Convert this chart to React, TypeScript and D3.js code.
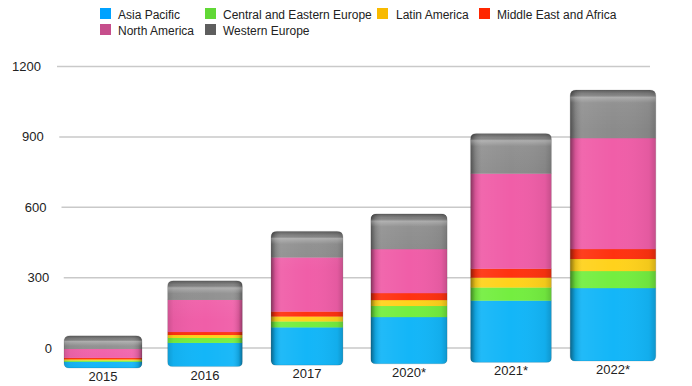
import React from 'react';
import * as d3 from 'd3';

const years = ['2015', '2016', '2017', '2020*', '2021*', '2022*'];
const seriesNames = [
  'Asia Pacific',
  'Central and Eastern Europe',
  'Latin America',
  'Middle East and Africa',
  'North America',
  'Western Europe',
];
const asiaPacific = [26, 97, 154, 190, 251, 296];
const centralEasternEurope = [5, 20, 24, 45, 53, 69];
const latinAmerica = [5, 12, 20, 24, 40, 49];
const middleEastAfrica = [6, 12, 20, 28, 36, 40];
const northAmerica = [36, 130, 219, 178, 385, 449];
const westernEurope = [53, 77, 105, 142, 162, 194];
const yTicks = [0, 300, 600, 900, 1200];

const seriesValues = [asiaPacific, centralEasternEurope, latinAmerica, middleEastAfrica, northAmerica, westernEurope];
const barColors = ['#13b6f8', '#74ee40', '#ffd21c', '#ff3210', '#f05ea8', '#8b8b8b'];
const legendColors = ['#00a2ff', '#61d836', '#f8ba00', '#ff2600', '#c64e8c', '#5e5e5e'];

const W = 692;
const H = 386;
const FONT = '"Liberation Sans", Arial, Helvetica, sans-serif';

function barPath(x: number, y: number, w: number, h: number, rt: number, rb: number) {
  return [
    `M${x},${y + rt}`,
    `Q${x},${y} ${x + rt},${y}`,
    `L${x + w - rt},${y}`,
    `Q${x + w},${y} ${x + w},${y + rt}`,
    `L${x + w},${y + h - rb}`,
    `Q${x + w},${y + h} ${x + w - rb},${y + h}`,
    `L${x + rb},${y + h}`,
    `Q${x},${y + h} ${x},${y + h - rb}`,
    'Z',
  ].join(' ');
}

export default function App() {
  const table = years.map((yr, i) => {
    const row: Record<string, any> = { year: yr };
    seriesNames.forEach((s, j) => (row[s] = seriesValues[j][i]));
    return row;
  });
  const stacked = d3.stack<any>().keys(seriesNames)(table);

  const x = d3.scaleBand<string>().domain(years).range([52, 664]).paddingInner(0.25).paddingOuter(0.125);
  const yGrid = d3.scaleLinear().domain([0, 1200]).range([348, 66.5]);
  const gridLeft = d3.scaleLinear().domain([0, 1200]).range([66, 57]);
  const labelRight = d3.scaleLinear().domain([0, 1200]).range([52, 41]);
  const barK = d3.scaleLinear().domain([0, 1200]).range([0, 1200 * 0.247]);
  const baseline = d3.scaleLinear().domain([0, years.length - 1]).range([368, 361]);
  const labelBase = d3.scaleLinear().domain([0, years.length - 1]).range([381, 374]);
  // perspective: bars near the edges look slightly wider
  const widthFactor = d3.scaleLinear().domain([103, 307, 612]).range([1.02, 0.94, 1.12]);

  const bw0 = x.bandwidth();
  const geom = years.map((yr) => {
    const cx = x(yr)! + bw0 / 2;
    const w = bw0 * widthFactor(cx);
    return { cx, w, x0: cx - w / 2 };
  });

  const legendItems = [
    { sx: 100, tx: 118, y: 14 },
    { sx: 205, tx: 223, y: 14 },
    { sx: 377, tx: 396, y: 14 },
    { sx: 479, tx: 497, y: 14 },
    { sx: 100, tx: 118, y: 30 },
    { sx: 205, tx: 223, y: 30 },
  ];

  return (
    <svg width={W} height={H} style={{ position: 'absolute', left: 0, top: 0, background: '#fff' }} fontFamily={FONT}>
      <defs>
        <linearGradient id="shadeL" x1="0" x2="1" y1="0" y2="0">
          <stop offset="0" stopColor="#000" stopOpacity="0.45" />
          <stop offset="0.06" stopColor="#000" stopOpacity="0.12" />
          <stop offset="0.14" stopColor="#fff" stopOpacity="0.06" />
          <stop offset="0.5" stopColor="#fff" stopOpacity="0" />
          <stop offset="0.92" stopColor="#000" stopOpacity="0.05" />
          <stop offset="1" stopColor="#000" stopOpacity="0.18" />
        </linearGradient>
        <linearGradient id="shadeR" x1="1" x2="0" y1="0" y2="0">
          <stop offset="0" stopColor="#000" stopOpacity="0.4" />
          <stop offset="0.05" stopColor="#000" stopOpacity="0.12" />
          <stop offset="0.14" stopColor="#fff" stopOpacity="0.04" />
          <stop offset="0.5" stopColor="#fff" stopOpacity="0" />
          <stop offset="0.92" stopColor="#000" stopOpacity="0.04" />
          <stop offset="1" stopColor="#000" stopOpacity="0.15" />
        </linearGradient>
        <linearGradient id="capShade" x1="0" x2="0" y1="0" y2="1">
          <stop offset="0" stopColor="#000" stopOpacity="0.35" />
          <stop offset="0.1" stopColor="#000" stopOpacity="0.08" />
          <stop offset="0.18" stopColor="#fff" stopOpacity="0.3" />
          <stop offset="0.32" stopColor="#fff" stopOpacity="0.06" />
          <stop offset="1" stopColor="#fff" stopOpacity="0" />
        </linearGradient>
        {years.map((yr, i) => {
          const total = stacked[stacked.length - 1][i][1];
          const g = geom[i];
          const by = baseline(i) - barK(total);
          return (
            <clipPath id={`clip${i}`} key={yr}>
              <path d={barPath(g.x0, by, g.w, barK(total), 6, 5)} />
            </clipPath>
          );
        })}
      </defs>

      {/* legend */}
      {seriesNames.map((s, j) => (
        <g key={s}>
          <rect x={legendItems[j].sx} y={legendItems[j].y - 6} width={11} height={11} fill={legendColors[j]} />
          <text x={legendItems[j].tx} y={legendItems[j].y + 4.5} fontSize={12} fill="#222">
            {s}
          </text>
        </g>
      ))}

      {/* grid */}
      {yTicks.map((t) => (
        <g key={t}>
          <line x1={gridLeft(t)} x2={650} y1={yGrid(t)} y2={yGrid(t)} stroke="#c9c9c9" strokeWidth={1.5} />
          <text x={labelRight(t)} y={yGrid(t)} dy="0.35em" textAnchor="end" fontSize={13} fill="#222">
            {t}
          </text>
        </g>
      ))}

      {/* bars */}
      {years.map((yr, i) => {
        const g = geom[i];
        const total = stacked[stacked.length - 1][i][1];
        const top = baseline(i) - barK(total);
        const h = barK(total);
        return (
          <g key={yr}>
            <g clipPath={`url(#clip${i})`}>
              {stacked.map((layer, j) => {
                const d = layer[i];
                const y1 = baseline(i) - barK(d[1]);
                const y0 = baseline(i) - barK(d[0]);
                return <rect key={j} x={g.x0} y={y1} width={g.w} height={y0 - y1 + 0.3} fill={barColors[j]} />;
              })}
              <rect x={g.x0} y={top} width={g.w} height={h} fill={i < 2 ? 'url(#shadeR)' : 'url(#shadeL)'} />
              <rect x={g.x0} y={top} width={g.w} height={Math.min(40, h)} fill="url(#capShade)" />
            </g>
            <path d={barPath(g.x0, top, g.w, h, 6, 5)} fill="none" stroke="#000" strokeOpacity={0.12} strokeWidth={1} />
            <text x={g.cx} y={labelBase(i)} textAnchor="middle" fontSize={13} fill="#222">
              {yr}
            </text>
          </g>
        );
      })}
    </svg>
  );
}
